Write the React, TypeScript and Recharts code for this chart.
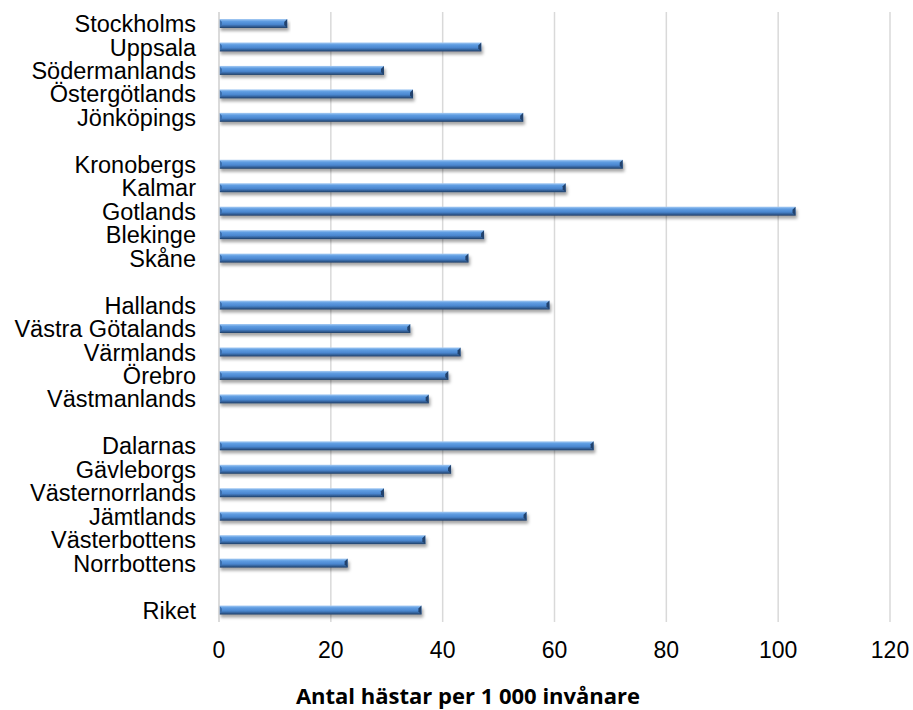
import { BarChart, Bar, XAxis, YAxis, CartesianGrid } from "recharts";

// län, top to bottom; empty strings are the gaps between the regions
const regions = [
  "Stockholms",
  "Uppsala",
  "Södermanlands",
  "Östergötlands",
  "Jönköpings",
  "",
  "Kronobergs",
  "Kalmar",
  "Gotlands",
  "Blekinge",
  "Skåne",
  "",
  "Hallands",
  "Västra Götalands",
  "Värmlands",
  "Örebro",
  "Västmanlands",
  "",
  "Dalarnas",
  "Gävleborgs",
  "Västernorrlands",
  "Jämtlands",
  "Västerbottens",
  "Norrbottens",
  "",
  "Riket",
];

const horsesPer1000 = [
  12.2, 46.9, 29.5, 34.7, 54.4, null,
  72.2, 62.0, 103.1, 47.4, 44.6, null,
  59.1, 34.2, 43.2, 41.0, 37.5, null,
  67.0, 41.5, 29.5, 55.0, 36.9, 23.0, null,
  36.2,
];

const xTicks = [0, 20, 40, 60, 80, 100, 120];
const axisTitle = "Antal hästar per 1 000 invånare";

const data = regions.map((name, i) => ({
  key: `r${i}`,
  name,
  value: horsesPer1000[i],
}));

const FONT = "'Liberation Sans', Arial, sans-serif";

const Bar3D = (props: any) => {
  const { x, y, width, height } = props;
  if (!width || width <= 0) return null;
  const b = Math.min(3, width / 2);
  return (
    <g filter="url(#barShadow)">
      <rect x={x} y={y} width={width} height={height} fill="url(#barFill)" />
      <polygon
        points={`${x + width - b},${y + b} ${x + width},${y} ${x + width},${y + height} ${x + width - b},${y + height - b}`}
        fill="#22436d"
      />
      <polygon
        points={`${x},${y} ${x + b},${y + b} ${x + b},${y + height - b} ${x},${y + height}`}
        fill="#3d6fae"
      />
    </g>
  );
};

const AxisTitle = () => (
  <text
    x={468}
    y={704}
    textAnchor="middle"
    fontFamily="'Open Sans', sans-serif"
    fontWeight={700}
    fontSize={22}
    fill="#000"
  >
    {axisTitle}
  </text>
);

export default function App() {
  return (
    <div style={{ position: "absolute", left: 0, top: 0 }}>
      <BarChart
        width={913}
        height={710}
        data={data}
        layout="vertical"
        margin={{ top: 12, right: 23, left: 0, bottom: 0 }}
        barCategoryGap={0}
        style={{ fontFamily: FONT }}
      >
        <defs>
          <linearGradient id="barFill" x1="0" y1="0" x2="0" y2="1">
            <stop offset="0%" stopColor="#a9cdf4" />
            <stop offset="25%" stopColor="#5f9de2" />
            <stop offset="60%" stopColor="#4a86cf" />
            <stop offset="85%" stopColor="#2f5a90" />
            <stop offset="100%" stopColor="#203d63" />
          </linearGradient>
          <filter id="barShadow" x="-5%" y="-50%" width="110%" height="250%">
            <feDropShadow dx="1.5" dy="3" stdDeviation="1.5" floodColor="#000" floodOpacity="0.35" />
          </filter>
        </defs>
        <CartesianGrid horizontal={false} stroke="#d9d9d9" strokeWidth={1.5} />
        <XAxis
          type="number"
          domain={[0, 120]}
          ticks={xTicks}
          axisLine={false}
          tickLine={false}
          tickSize={0}
          tickMargin={20}
          height={88}
          tick={{ fontSize: 23, fill: "#000", fontFamily: FONT }}
          label={<AxisTitle />}
        />
        <YAxis
          type="category"
          dataKey="key"
          width={219}
          tickLine={false}
          tickSize={0}
          tickMargin={23}
          interval={0}
          axisLine={{ stroke: "#d9d9d9", strokeWidth: 1.5 }}
          tickFormatter={(_k: string, i: number) => regions[i]}
          tick={{ fontSize: 23.5, fill: "#000", fontFamily: FONT }}
        />
        <Bar
          dataKey="value"
          barSize={9}
          shape={<Bar3D />}
          isAnimationActive={false}
        />
      </BarChart>
    </div>
  );
}
